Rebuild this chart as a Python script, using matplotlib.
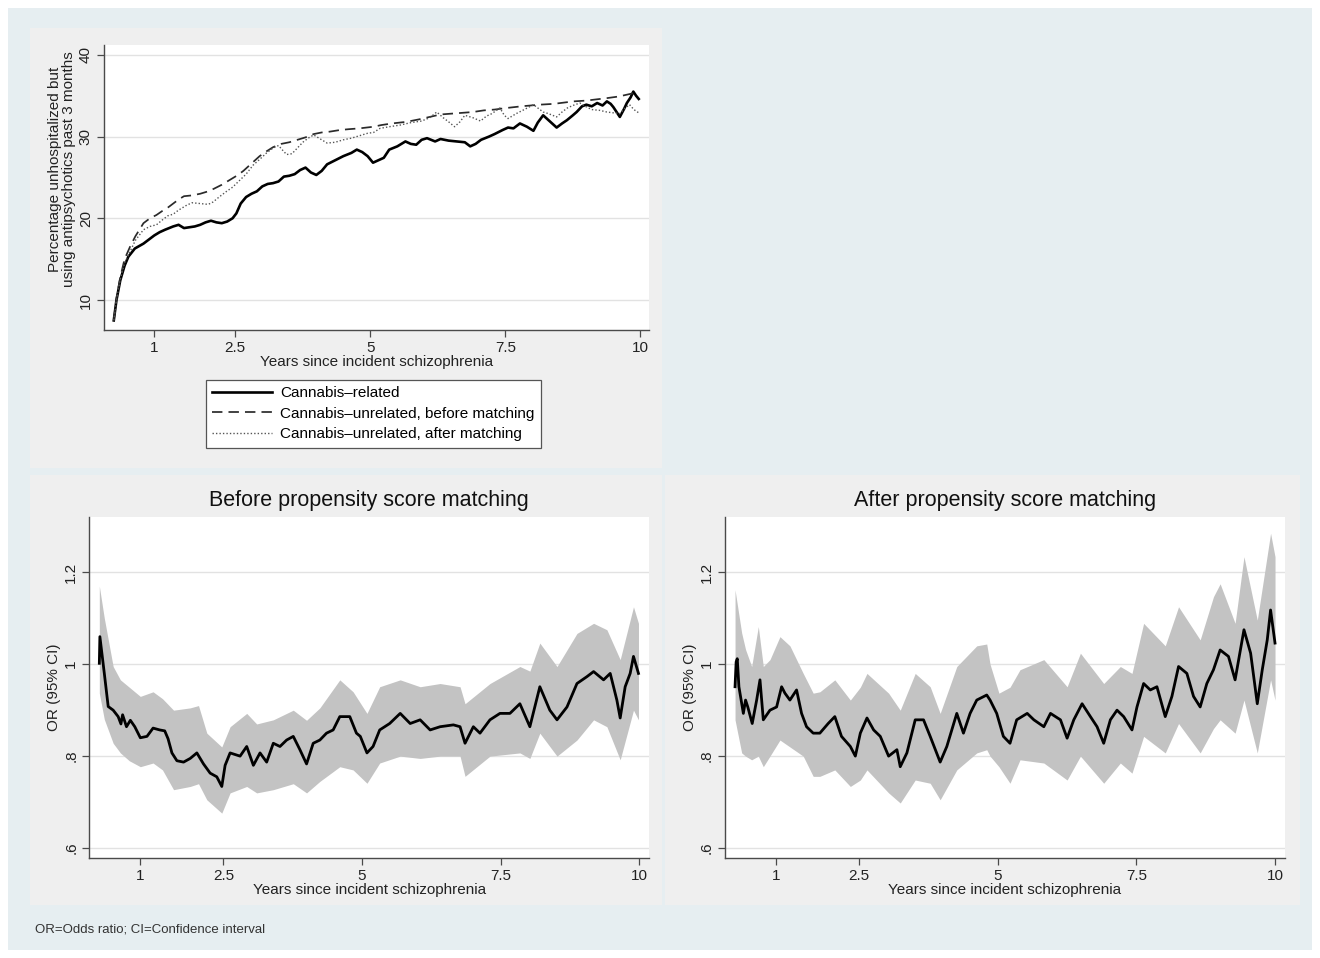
import matplotlib.pyplot as plt
from matplotlib.patches import Rectangle

plt.rcParams['font.family'] = ['Liberation Sans', 'DejaVu Sans']

# ---- top panel: percentage unhospitalized but using antipsychotics ----
years_rel = [0.25, 0.30, 0.37, 0.45, 0.52, 0.64, 0.72, 0.80, 0.90, 1.00,
             1.10, 1.20, 1.35, 1.45, 1.55, 1.65, 1.75, 1.85, 1.95, 2.05,
             2.15, 2.25, 2.35, 2.45, 2.52, 2.60, 2.70, 2.80, 2.90, 3.00,
             3.10, 3.20, 3.30, 3.40, 3.50, 3.60, 3.70, 3.80, 3.90, 4.00,
             4.10, 4.20, 4.35, 4.50, 4.65, 4.75, 4.85, 4.95, 5.05, 5.15,
             5.25, 5.35, 5.50, 5.65, 5.75, 5.85, 5.95, 6.05, 6.20, 6.30,
             6.45, 6.60, 6.75, 6.85, 6.95, 7.05, 7.20, 7.30, 7.45, 7.55,
             7.65, 7.77, 7.90, 8.02, 8.10, 8.20, 8.30, 8.45, 8.55, 8.64,
             8.75, 8.82, 8.92, 9.00, 9.10, 9.20, 9.30, 9.38, 9.45, 9.50,
             9.56, 9.62, 9.70, 9.75, 9.82, 9.87, 9.92, 9.97]
pct_rel = [7.5, 10.0, 12.4, 14.2, 15.3, 16.3, 16.6, 16.9, 17.4, 17.9,
           18.3, 18.6, 19.0, 19.2, 18.8, 18.9, 19.0, 19.2, 19.5, 19.7,
           19.5, 19.4, 19.6, 20.0, 20.6, 21.8, 22.6, 23.0, 23.3, 23.9,
           24.2, 24.3, 24.5, 25.1, 25.2, 25.4, 25.9, 26.2, 25.6, 25.3,
           25.8, 26.6, 27.1, 27.6, 28.0, 28.4, 28.1, 27.6, 26.8, 27.1,
           27.4, 28.4, 28.8, 29.4, 29.1, 29.0, 29.6, 29.8, 29.4, 29.7,
           29.5, 29.4, 29.3, 28.8, 29.1, 29.6, 30.0, 30.3, 30.8, 31.1,
           31.0, 31.6, 31.2, 30.7, 31.7, 32.6, 32.0, 31.1, 31.6, 32.0,
           32.6, 33.0, 33.7, 33.9, 33.7, 34.1, 33.8, 34.3, 34.0, 33.6,
           33.0, 32.4, 33.4, 34.1, 34.8, 35.5, 35.0, 34.6]

years_unrel_before = [0.25, 0.30, 0.37, 0.45, 0.55, 0.65, 0.80, 0.92, 1.04, 1.15,
                      1.25, 1.35, 1.45, 1.55, 1.70, 1.85, 2.00, 2.10, 2.25, 2.40,
                      2.55, 2.65, 2.75, 2.85, 2.95, 3.08, 3.20, 3.35, 3.50, 3.65,
                      3.80, 3.95, 4.10, 4.25, 4.44, 4.60, 4.80, 5.06, 5.20, 5.40,
                      5.67, 5.90, 6.10, 6.30, 6.50, 6.70, 6.90, 7.10, 7.30, 7.53,
                      7.80, 8.14, 8.40, 8.76, 9.00, 9.38, 9.60, 9.87, 9.97]
pct_unrel_before = [7.5, 10.2, 12.8, 15.0, 16.5, 17.8, 19.4, 20.0, 20.4, 20.9,
                    21.3, 21.8, 22.3, 22.7, 22.8, 23.0, 23.3, 23.6, 24.1, 24.7,
                    25.3, 25.8, 26.4, 27.0, 27.6, 28.2, 28.7, 29.1, 29.3, 29.6,
                    29.9, 30.3, 30.5, 30.6, 30.8, 30.9, 31.0, 31.2, 31.4, 31.6,
                    31.8, 32.1, 32.4, 32.7, 32.8, 32.9, 33.0, 33.2, 33.3, 33.5,
                    33.7, 33.9, 34.0, 34.3, 34.4, 34.7, 34.9, 35.3, 35.2]

years_unrel_after = [0.25, 0.30, 0.37, 0.45, 0.55, 0.65, 0.80, 0.92, 1.04, 1.15,
                     1.25, 1.35, 1.45, 1.60, 1.70, 1.85, 2.00, 2.09, 2.20, 2.34,
                     2.45, 2.59, 2.70, 2.83, 2.95, 3.08, 3.20, 3.30, 3.38, 3.45,
                     3.55, 3.65, 3.75, 3.85, 3.95, 4.05, 4.20, 4.35, 4.50, 4.65,
                     4.80, 4.95, 5.06, 5.18, 5.35, 5.55, 5.75, 5.95, 6.10, 6.23,
                     6.35, 6.45, 6.56, 6.66, 6.75, 6.90, 7.04, 7.15, 7.25, 7.40,
                     7.48, 7.55, 7.70, 7.85, 8.02, 8.10, 8.20, 8.30, 8.45, 8.55,
                     8.65, 8.75, 8.88, 8.98, 9.10, 9.25, 9.38, 9.50, 9.62, 9.72,
                     9.80, 9.88, 9.97]
pct_unrel_after = [7.5, 10.0, 12.5, 14.5, 15.9, 17.3, 18.6, 19.0, 19.2, 19.8,
                   20.3, 20.5, 21.0, 21.6, 21.9, 21.8, 21.7, 22.0, 22.6, 23.3,
                   23.8, 24.7, 25.4, 26.5, 27.2, 28.0, 28.6, 28.9, 28.3, 27.8,
                   27.9, 28.6, 29.3, 29.8, 30.2, 29.8, 29.2, 29.3, 29.6, 29.8,
                   30.1, 30.4, 30.5, 31.0, 31.2, 31.4, 31.7, 31.9, 32.3, 33.0,
                   32.3, 31.8, 31.2, 31.8, 32.6, 32.3, 31.9, 32.5, 32.8, 33.5,
                   32.6, 32.2, 32.8, 33.3, 33.9, 33.5, 33.0, 32.8, 32.4, 33.0,
                   33.5, 33.8, 34.1, 33.7, 33.3, 33.2, 33.0, 32.9, 32.8, 33.5,
                   33.9, 33.3, 32.9]

# ---- bottom left: OR before propensity score matching ----
years_or_before = [0.26, 0.27, 0.35, 0.42, 0.51, 0.60, 0.65, 0.68, 0.75, 0.82,
                   0.90, 1.00, 1.12, 1.23, 1.35, 1.44, 1.50, 1.57, 1.66, 1.78,
                   1.90, 2.02, 2.14, 2.26, 2.38, 2.47, 2.53, 2.62, 2.80, 2.92,
                   3.04, 3.16, 3.28, 3.40, 3.52, 3.64, 3.76, 3.88, 4.00, 4.12,
                   4.24, 4.36, 4.48, 4.60, 4.78, 4.90, 4.97, 5.09, 5.20, 5.32,
                   5.50, 5.69, 5.87, 6.05, 6.23, 6.41, 6.65, 6.77, 6.86, 7.01,
                   7.13, 7.31, 7.49, 7.67, 7.85, 8.03, 8.21, 8.39, 8.52, 8.70,
                   8.88, 9.06, 9.18, 9.36, 9.48, 9.60, 9.66, 9.75, 9.84, 9.90,
                   9.99]
or_before = [1.002, 1.06, 0.98, 0.908, 0.90, 0.886, 0.87, 0.89, 0.864, 0.878,
             0.864, 0.84, 0.843, 0.861, 0.857, 0.855, 0.838, 0.807, 0.79, 0.787,
             0.795, 0.807, 0.783, 0.763, 0.755, 0.734, 0.78, 0.807, 0.80, 0.821,
             0.78, 0.807, 0.787, 0.828, 0.821, 0.835, 0.843, 0.814, 0.783, 0.828,
             0.835, 0.85, 0.857, 0.886, 0.886, 0.85, 0.843, 0.807, 0.821, 0.857,
             0.871, 0.893, 0.871, 0.879, 0.857, 0.864, 0.868, 0.864, 0.828, 0.864,
             0.85, 0.879, 0.893, 0.893, 0.914, 0.864, 0.951, 0.90, 0.879, 0.907,
             0.958, 0.973, 0.984, 0.966, 0.98, 0.922, 0.883, 0.951, 0.98, 1.017,
             0.98]
years_ci_before = [0.26, 0.35, 0.51, 0.64, 0.80, 1.00, 1.23, 1.40, 1.60, 1.90,
                   2.05, 2.20, 2.47, 2.62, 2.92, 3.10, 3.40, 3.76, 4.00, 4.24,
                   4.60, 4.84, 5.09, 5.32, 5.69, 6.05, 6.41, 6.77, 6.86, 7.31,
                   7.85, 8.03, 8.21, 8.52, 8.88, 9.18, 9.42, 9.66, 9.90, 9.99]
lo_before = [0.937, 0.88, 0.828, 0.807, 0.79, 0.777, 0.785, 0.77, 0.727, 0.734,
             0.74, 0.705, 0.676, 0.72, 0.734, 0.72, 0.727, 0.74, 0.72, 0.745,
             0.777, 0.77, 0.741, 0.785, 0.80, 0.795, 0.80, 0.80, 0.756, 0.80,
             0.807, 0.795, 0.85, 0.80, 0.835, 0.879, 0.864, 0.792, 0.90, 0.879]
hi_before = [1.17, 1.10, 0.995, 0.966, 0.95, 0.93, 0.94, 0.925, 0.90, 0.905,
             0.91, 0.85, 0.82, 0.864, 0.893, 0.87, 0.879, 0.90, 0.878, 0.905,
             0.966, 0.94, 0.893, 0.951, 0.966, 0.951, 0.958, 0.951, 0.914, 0.958,
             0.995, 0.985, 1.046, 0.995, 1.067, 1.089, 1.075, 1.01, 1.125, 1.089]

# ---- bottom right: OR after propensity score matching ----
years_or_after = [0.26, 0.28, 0.30, 0.33, 0.41, 0.45, 0.49, 0.57, 0.65, 0.71,
                  0.77, 0.89, 1.01, 1.10, 1.16, 1.25, 1.37, 1.46, 1.55, 1.67,
                  1.79, 1.94, 2.06, 2.18, 2.34, 2.43, 2.52, 2.64, 2.76, 2.88,
                  3.03, 3.18, 3.24, 3.36, 3.51, 3.66, 3.78, 3.96, 4.08, 4.26,
                  4.38, 4.50, 4.62, 4.80, 4.86, 4.98, 5.10, 5.22, 5.34, 5.53,
                  5.65, 5.83, 5.95, 6.13, 6.25, 6.37, 6.52, 6.67, 6.79, 6.91,
                  7.03, 7.15, 7.27, 7.42, 7.51, 7.63, 7.75, 7.87, 8.02, 8.14,
                  8.26, 8.41, 8.53, 8.65, 8.77, 8.89, 9.01, 9.16, 9.28, 9.44,
                  9.56, 9.68, 9.77, 9.86, 9.92, 10.0]
or_after = [0.951, 1.005, 1.012, 0.951, 0.893, 0.922, 0.907, 0.871, 0.922, 0.966,
            0.879, 0.90, 0.907, 0.951, 0.937, 0.922, 0.944, 0.893, 0.864, 0.85,
            0.85, 0.871, 0.886, 0.843, 0.821, 0.80, 0.85, 0.883, 0.857, 0.843,
            0.80, 0.814, 0.777, 0.807, 0.879, 0.879, 0.843, 0.787, 0.821, 0.893,
            0.85, 0.893, 0.922, 0.933, 0.922, 0.893, 0.843, 0.828, 0.879, 0.893,
            0.879, 0.864, 0.893, 0.879, 0.839, 0.879, 0.914, 0.886, 0.864, 0.828,
            0.879, 0.90, 0.886, 0.857, 0.907, 0.958, 0.944, 0.951, 0.886, 0.93,
            0.995, 0.98, 0.93, 0.907, 0.958, 0.988, 1.031, 1.017, 0.966, 1.075,
            1.024, 0.914, 0.988, 1.053, 1.118, 1.046]
years_ci_after = [0.26, 0.38, 0.45, 0.56, 0.68, 0.77, 0.89, 1.07, 1.25, 1.49,
                  1.67, 1.79, 2.06, 2.34, 2.52, 2.64, 3.03, 3.24, 3.51, 3.78,
                  3.96, 4.26, 4.62, 4.80, 4.86, 5.02, 5.22, 5.40, 5.83, 6.25,
                  6.49, 6.91, 7.21, 7.42, 7.63, 8.02, 8.26, 8.65, 8.89, 9.01,
                  9.28, 9.44, 9.68, 9.92, 10.0]
lo_after = [0.879, 0.807, 0.80, 0.792, 0.80, 0.777, 0.80, 0.835, 0.82, 0.80,
            0.756, 0.756, 0.77, 0.734, 0.748, 0.77, 0.72, 0.698, 0.748, 0.741,
            0.705, 0.77, 0.807, 0.814, 0.80, 0.777, 0.741, 0.792, 0.785, 0.748,
            0.80, 0.741, 0.785, 0.763, 0.843, 0.807, 0.871, 0.807, 0.86, 0.879,
            0.85, 0.922, 0.807, 0.966, 0.922]
hi_after = [1.162, 1.068, 1.032, 0.995, 1.082, 0.995, 1.01, 1.06, 1.04, 0.98,
            0.937, 0.94, 0.966, 0.922, 0.95, 0.98, 0.937, 0.90, 0.98, 0.951,
            0.893, 0.995, 1.04, 1.044, 1.0, 0.937, 0.95, 0.988, 1.01, 0.951,
            1.024, 0.958, 0.995, 0.98, 1.089, 1.04, 1.125, 1.053, 1.147, 1.175,
            1.089, 1.234, 1.096, 1.285, 1.234]

x_ticks = [1, 2.5, 5, 7.5, 10]
x_tick_labels = ['1', '2.5', '5', '7.5', '10']
top_y_ticks = [10, 20, 30, 40]
or_y_ticks = [0.6, 0.8, 1.0, 1.2]
or_y_labels = ['.6', '.8', '1', '1.2']

W, H = 1320, 958
AXIS_COL = '#4a4a4a'
GRID_COL = '#e2e2e2'
FS = 11


def fbox(x0, y0, x1, y1):
    # pixel box (top-left origin) -> figure fraction rect
    return [x0 / W, 1 - y1 / H, (x1 - x0) / W, (y1 - y0) / H]


def style_axis(ax, yticks, ylabels):
    for side in ('top', 'right'):
        ax.spines[side].set_visible(False)
    for side in ('left', 'bottom'):
        ax.spines[side].set_color(AXIS_COL)
        ax.spines[side].set_linewidth(1.0)
    ax.set_facecolor('white')
    ax.set_xticks(x_ticks)
    ax.set_xticklabels(x_tick_labels)
    ax.set_yticks(yticks)
    ax.set_yticklabels(ylabels, rotation=90, va='center')
    ax.tick_params(direction='out', length=5, width=0.9, color=AXIS_COL,
                   labelsize=FS, labelcolor='#222222', pad=3)
    ax.grid(axis='y', color=GRID_COL, linewidth=1.0)
    ax.set_axisbelow(True)
    ax.set_xlabel('Years since incident schizophrenia', fontsize=FS,
                  color='#222222', labelpad=0)


fig = plt.figure(figsize=(W / 100, H / 100), dpi=100)
fig.patch.set_facecolor('white')

# backgrounds
fig.patches.append(Rectangle((8 / W, 1 - 950 / H), 1304 / W, 942 / H,
                             transform=fig.transFigure, facecolor='#e6eef1',
                             edgecolor='none', zorder=-3))
for box in [(30, 28, 662, 468), (30, 475, 662, 905), (665, 475, 1300, 905)]:
    r = fbox(*box)
    fig.patches.append(Rectangle((r[0], r[1]), r[2], r[3],
                                 transform=fig.transFigure, facecolor='#efefef',
                                 edgecolor='none', zorder=-2))

# top panel
ax_top = fig.add_axes(fbox(104, 45, 649, 330))
ax_top.plot(years_rel, pct_rel, color='black', linewidth=1.9,
            label='Cannabis\u2013related')
ax_top.plot(years_unrel_before, pct_unrel_before, color='#2a2a2a', linewidth=1.25,
            dashes=(6, 3.5), label='Cannabis\u2013unrelated, before matching')
ax_top.plot(years_unrel_after, pct_unrel_after, color='#555555', linewidth=1.0,
            dashes=(1, 1.5), label='Cannabis\u2013unrelated, after matching')
ax_top.set_xlim(0.069, 10.16)
ax_top.set_ylim(6.33, 41.2)
style_axis(ax_top, top_y_ticks, [str(v) for v in top_y_ticks])
ax_top.set_ylabel('Percentage unhospitalized but\nusing antipsychotics past 3 months',
                  fontsize=FS, color='#222222', linespacing=0.95)
ax_top.yaxis.set_label_coords(-0.052, 0.565)

handles, labels = ax_top.get_legend_handles_labels()
leg = fig.legend(handles, labels, loc='upper left',
                 bbox_to_anchor=(206 / W, 1 - 380 / H), borderaxespad=0,
                 fontsize=FS, handlelength=3.9, handletextpad=0.55,
                 labelspacing=0.42, borderpad=0.42, fancybox=False,
                 framealpha=1, edgecolor='#555555')
leg.get_frame().set_linewidth(0.9)

# bottom panels
panels = [
    (fbox(89.3, 516.7, 649, 857.7), 'Before propensity score matching',
     years_or_before, or_before, years_ci_before, lo_before, hi_before),
    (fbox(725, 516.7, 1285, 857.7), 'After propensity score matching',
     years_or_after, or_after, years_ci_after, lo_after, hi_after),
]
for rect, title, xs, ors, xci, lo, hi in panels:
    ax = fig.add_axes(rect)
    ax.fill_between(xci, lo, hi, color='#c3c3c3', linewidth=0, zorder=2)
    ax.plot(xs, ors, color='black', linewidth=2.0, zorder=3)
    ax.set_xlim(0.079, 10.18)
    ax.set_ylim(0.579, 1.321)
    style_axis(ax, or_y_ticks, or_y_labels)
    ax.set_ylabel('OR (95% CI)', fontsize=FS, color='#222222', labelpad=2)
    ax.set_title(title, fontsize=15.5, color='#111111', pad=8)

fig.text(35 / W, 1 - 929 / H, 'OR=Odds ratio; CI=Confidence interval',
         fontsize=9.5, color='#333333', va='center', ha='left')

fig.savefig('out.png', dpi=100, facecolor=fig.get_facecolor())
